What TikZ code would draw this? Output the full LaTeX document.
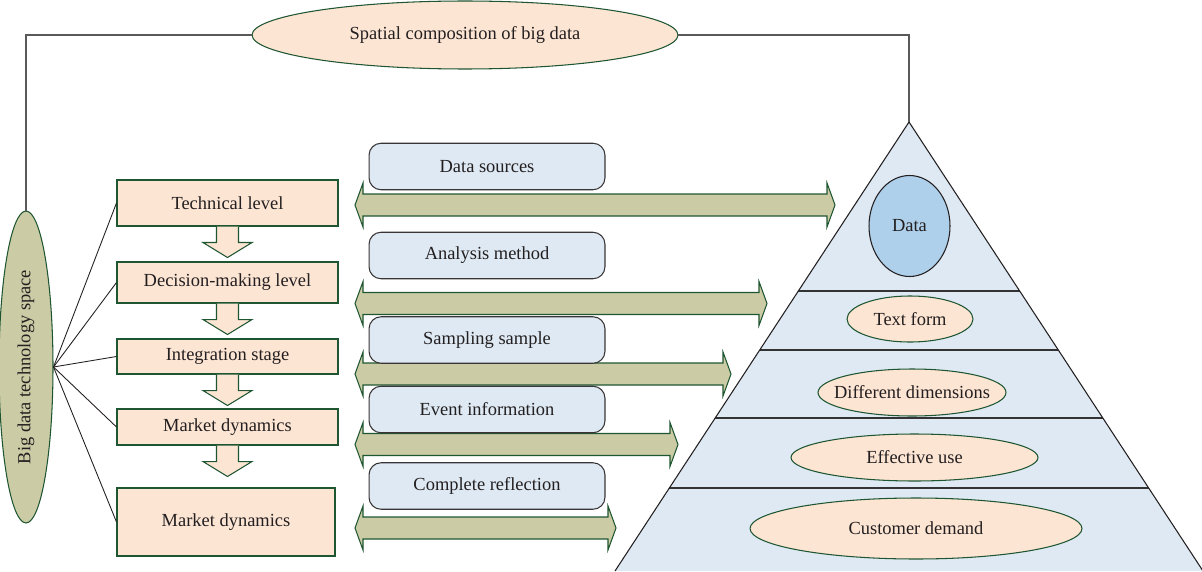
\documentclass[tikz,border=0pt]{standalone}
\usepackage{fontspec}
\setmainfont{Liberation Serif}
\usepackage{tikz}
\usetikzlibrary{shapes.geometric,calc}

\definecolor{peach}{HTML}{FDE5D4}
\definecolor{leaf}{HTML}{1E5631}
\definecolor{sage}{HTML}{CBCCA6}
\definecolor{paleblue}{HTML}{DEE9F3}
\definecolor{skyblue}{HTML}{AFD0EB}
\definecolor{ink}{HTML}{231F20}

\begin{document}
\begin{tikzpicture}[x=0.02cm,y=-0.02cm,font=\fontsize{10.5}{12.5}\selectfont,
                    text=ink,line width=0.6pt]
  \tikzstyle{level}=[rectangle,draw=leaf,fill=peach,minimum width=4.42cm]
  \tikzstyle{source}=[rectangle,rounded corners=0.24cm,draw=ink!90,fill=paleblue,
                      minimum width=4.72cm,minimum height=0.93cm]
  \tikzstyle{tag}=[draw=leaf,fill=peach]
  \tikzstyle{wire}=[draw=black!65,line width=0.8pt]
  \tikzstyle{fan}=[draw=ink,line width=0.5pt]
  \tikzstyle{down}=[draw=leaf,fill=peach]
  \tikzstyle{both}=[draw=leaf,fill=sage]

  \useasboundingbox (0,0) rectangle (1202,571);

  % pyramid and its layers
  \coordinate (top) at (909,122);
  \coordinate (bl) at (615,571);
  \coordinate (br) at (1203,571);
  \fill[paleblue] (top) -- (bl) -- (br) -- cycle;
  \foreach \t in {0.3764,0.5078,0.6592,0.8151}
    \draw[black!80] ($(top)!\t!(bl)$) -- ($(top)!\t!(br)$);
  \draw[ink] (bl) -- (top) -- (br);

  \node[ellipse,draw=ink,fill=skyblue,minimum width=1.62cm,minimum height=2.02cm]
    (data) at (909.5,226) {Data};
  \foreach \x/\y/\rx/\ry/\txt/\name in {910/319/1.26/0.46/Text form/form,
      912/392.5/1.88/0.47/Different dimensions/dims,
      914.5/457.5/2.47/0.47/Effective use/use,
      916/528.5/3.32/0.61/Customer demand/demand} {
    \filldraw[tag] (\x,\y) ellipse [x radius=\rx cm, y radius=\ry cm];
    \node (\name) at (\x,\y) {\txt};
  }

  % two-way arrows
  \foreach \y/\r in {205/835,303.5/767,374/731,444.5/678,528/616}
    \filldraw[both] (355,\y) -- (363,\y-22) -- (363,\y-11) -- (\r-8,\y-11)
      -- (\r-8,\y-22) -- (\r,\y) -- (\r-8,\y+22) -- (\r-8,\y+11)
      -- (363,\y+11) -- (363,\y+22) -- cycle;

  \node[source] (src)   at (487,166.5) {Data sources};
  \node[source] (meth)  at (487,255.5) {Analysis method};
  \node[source] (samp)  at (487,340)   {Sampling sample};
  \node[source] (event) at (487,409.5) {Event information};
  \node[source] (refl)  at (487,486)   {Complete reflection};

  % levels on the left
  \node[level,minimum height=0.92cm] (tech)  at (227.5,203)   {Technical level};
  \node[level,minimum height=0.82cm] (dec)   at (227.5,282.5) {Decision-making level};
  \node[level,minimum height=0.70cm] (integ) at (227.5,356.5) {Integration stage};
  \node[level,minimum height=0.72cm] (mkta)  at (227.5,427)   {Market dynamics};
  \node[level,minimum width=4.36cm,minimum height=1.36cm]
    (mktb) at (226,522) {Market dynamics};

  \foreach \a in {tech,dec,integ,mkta}
    \filldraw[down] (\a.south) ++(-11,0) -- ++(0,16) -- ++(-13.5,0) -- ++(24.5,15)
      -- ++(24.5,-15) -- ++(-13.5,0) -- ++(0,-16);

  \node[ellipse,draw=leaf,fill=sage,minimum width=1.08cm,minimum height=6.24cm]
    (space) at (26,367) {\rotatebox{90}{Big data technology space}};
  \foreach \b in {tech,dec,integ,mkta,mktb}
    \draw[fan] (space.east) -- (\b.west);

  \node[ellipse,draw=leaf,fill=peach,minimum width=8.52cm,minimum height=1.36cm]
    (spatial) at (465,35) {Spatial composition of big data};
  \draw[wire] (spatial.west) -| (space.north);
  \draw[wire] (spatial.east) -| (top);
\end{tikzpicture}
\end{document}
